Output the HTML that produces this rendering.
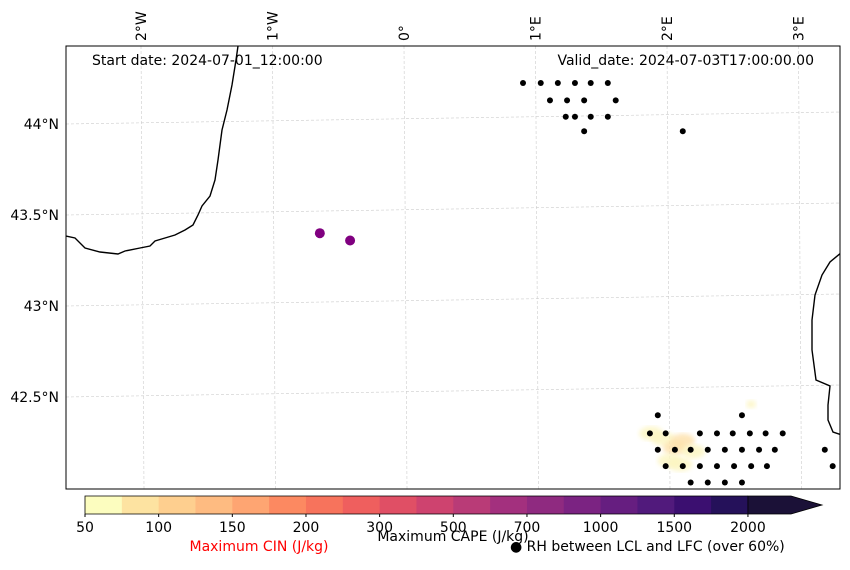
<!DOCTYPE html>
<html><head><meta charset="utf-8"><style>
body{margin:0;background:#fff;font-family:"Liberation Sans","DejaVu Sans",sans-serif;}
svg text{font-family:"DejaVu Sans","Liberation Sans",sans-serif;}
</style></head><body>
<svg id="chart" width="850" height="565" xmlns="http://www.w3.org/2000/svg">
<defs><filter id="blur"><feGaussianBlur stdDeviation="2.5"/></filter>
<clipPath id="mapclip"><rect x="66" y="46" width="774" height="443"/></clipPath></defs>
<g id="grid"></g>
<g id="cape" clip-path="url(#mapclip)"></g>
<g clip-path="url(#mapclip)" fill="none" stroke="#000" stroke-width="1.4">
<polyline points="238,46 236,60 232,85 227,110 222,130 218,160 215,180 210,196 202,206 198,215 193,225 185,230 175,235 165,238 155,241 150,246 140,248 125,251 118,254 100,252 85,248 75,238 66,236"/>
<polyline points="842,252 830,262 822,275 815,295 812,320 812,350 816,380 830,386 828,405 828,420 833,432 842,435"/>
</g>
<g id="dots" clip-path="url(#mapclip)"></g>
<g id="cin"></g>
<rect x="66" y="46" width="774" height="443" fill="none" stroke="#000" stroke-width="1"/>
<g id="lonlabels" font-size="14"></g>
<g id="latlabels" font-size="14"></g>
<text x="92" y="65" font-size="14">Start date: 2024-07-01_12:00:00</text>
<text x="814" y="65" font-size="14" text-anchor="end">Valid_date: 2024-07-03T17:00:00.00</text>
<g id="cbar"></g>
<text x="259" y="551" font-size="14" fill="#ff0000" text-anchor="middle">Maximum CIN (J/kg)</text>
<text x="453" y="541" font-size="14" text-anchor="middle">Maximum CAPE (J/kg)</text>
<text x="510" y="551" font-size="14">● RH between LCL and LFC (over 60%)</text>
</svg>
<script>
const lonTicks=[-2,-1,0,1,2,3];
const lonTickLabels=["2°W","1°W","0°","1°E","2°E","3°E"];
const latTicks=[44,43.5,43,42.5];
const latTickLabels=["44°N","43.5°N","43°N","42.5°N"];
const rhLon=[0.905,1.04,1.17,1.30,1.42,1.55,1.11,1.24,1.37,1.61,1.23,1.30,1.42,1.55,1.37,2.12,1.93,2.57,1.87,1.99,2.25,2.38,2.50,2.63,2.75,2.88,1.93,2.06,2.18,2.31,2.44,2.57,2.70,2.82,3.20,1.99,2.12,2.25,2.38,2.51,2.64,2.76,3.26,2.18,2.31,2.44,2.57];
const rhLat=[44.225,44.225,44.225,44.225,44.225,44.225,44.13,44.13,44.13,44.13,44.04,44.04,44.04,44.04,43.96,43.96,42.40,42.40,42.30,42.30,42.30,42.30,42.30,42.30,42.30,42.30,42.21,42.21,42.21,42.21,42.21,42.21,42.21,42.21,42.21,42.12,42.12,42.12,42.12,42.12,42.12,42.12,42.12,42.03,42.03,42.03,42.03];
const cinLon=[-0.64,-0.41];
const cinLat=[43.40,43.36];
const capeLon=[1.88,1.97,2.06,2.12,2.20,2.02,2.10,2.64];
const capeLat=[42.30,42.27,42.22,42.26,42.20,42.15,42.13,42.46];
const capeVal=[60,55,75,70,55,50,55,50];
const cbarBounds=[50,75,100,125,150,175,200,250,300,400,500,600,700,850,1000,1250,1500,1750,2000,2500];
const cbarLabels=["50","100","150","200","300","500","700","1000","1500","2000"];
const cbarColors=["#fcfdbf","#fde3a1","#fecf8f","#febb81","#fea572","#fc8961","#f7735c","#ef5f5e","#e04f65","#ce436f","#b93b77","#a3307e","#8f2a80","#7b2382","#661e80","#511a7c","#3b0f70","#25115a","#1b1137"];
const NS="http://www.w3.org/2000/svg";
function X(lon){return 404+131.5*lon;}
function Y(lat){return 124+182*(44-lat);}
function el(t,a,p){const e=document.createElementNS(NS,t);for(const k in a)e.setAttribute(k,a[k]);p.appendChild(e);return e;}
const grid=document.getElementById('grid');
lonTicks.forEach((l,i)=>{const e=el('line',{x1:X(l),y1:46,x2:X(l)+3,y2:489,stroke:'#ccc','stroke-width':0.6,'stroke-dasharray':'3,2'},grid);


const t=el('text',{x:0,y:0,transform:`translate(${X(l)+5},41) rotate(-90)`},document.getElementById('lonlabels'));t.textContent=lonTickLabels[i];

});
latTicks.forEach((l,i)=>{const e=el('line',{x1:66,y1:Y(l),x2:840,y2:Y(l)-12,stroke:'#ccc','stroke-width':0.6,'stroke-dasharray':'3,2'},grid);


const t=el('text',{x:59,y:Y(l)+5,'text-anchor':'end'},document.getElementById('latlabels'));t.textContent=latTickLabels[i];

});
const cape=document.getElementById('cape');
capeLon.forEach((l,i)=>{const c=el('ellipse',{cx:X(l),cy:Y(capeLat[i]),rx:i===7?5:12,ry:i===7?4:7,fill:capeVal[i]>65?'#fde0a8':'#fcf5c0',opacity:0.8,filter:'url(#blur)'},cape);

});
const dots=document.getElementById('dots');
rhLon.forEach((l,i)=>{const c=el('circle',{cx:X(l),cy:Y(rhLat[i]),r:3,fill:'#000'},dots);

});
const cin=document.getElementById('cin');
cinLon.forEach((l,i)=>{const c=el('circle',{cx:X(l),cy:Y(cinLat[i]),r:5,fill:'#800080'},cin);

});
const cb=document.getElementById('cbar');const x0=85,w=36.83,y0=496,h=18;
cbarColors.forEach((c,i)=>{if(i<cbarColors.length-1){const r=el('rect',{x:x0+i*w,y:y0,width:w+0.5,height:h,fill:c},cb);

}});
const last=cbarColors.length-1,xl=x0+last*w,xe=791;
const tri=el('polygon',{points:`${xl},${y0} ${xe},${y0} ${xe+31},${y0+h/2} ${xe},${y0+h} ${xl},${y0+h}`,fill:cbarColors[last],stroke:'#000','stroke-width':0.8},cb);


el('polyline',{points:`${xl},${y0} ${x0},${y0} ${x0},${y0+h} ${xl},${y0+h}`,fill:'none',stroke:'#000','stroke-width':0.8},cb);
cbarLabels.forEach((s,i)=>{const x=x0+i*2*w;el('line',{x1:x,y1:y0+h,x2:x,y2:y0+h+3,stroke:'#000'},cb);
const t=el('text',{x:x,y:532,'font-size':14,'text-anchor':'middle'},cb);t.textContent=s;

});
</script>
</body></html>
